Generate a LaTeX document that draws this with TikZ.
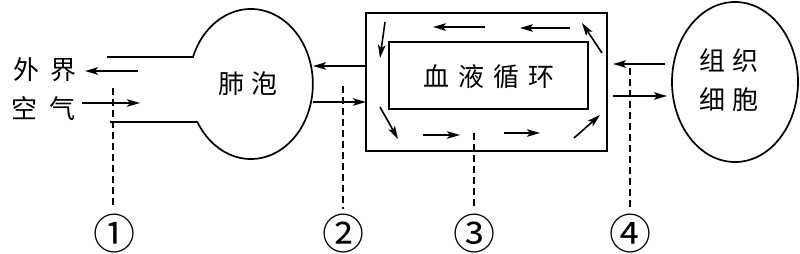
\documentclass[tikz,border=0pt]{standalone}
\usepackage{fontspec}
\newfontfamily\cjk{Noto Sans CJK SC}
\usetikzlibrary{arrows.meta,shapes.geometric}
\begin{document}
\begin{tikzpicture}[x=1pt,y=-1pt,
  line width=1.7pt,
  arr/.style={line width=1.6pt,-{Stealth[length=13pt,width=7.5pt,inset=3pt]}},
  dsh/.style={line width=1.4pt,dash pattern=on 7pt off 4pt},
  lbl/.style={font=\cjk\fontsize{26}{30}\selectfont,inner sep=0pt},
  num/.style={font=\cjk\fontsize{42}{44}\selectfont,inner sep=0pt}]
\useasboundingbox (0,0) rectangle (800,254);
% alveolus
\draw (107,57) -- (193,57) arc[start angle=201.1,end angle=509.5,x radius=62,y radius=75] -- (110,122);
\node[lbl] (alv) at (248,84) {肺\hspace{8pt}泡};
% outside air
\node[lbl] (air1) at (45,70) {外\hspace{12pt}界};
\node[lbl] (air2) at (44,109) {空\hspace{12pt}气};
\coordinate (a1s) at (138,71); \coordinate (a1e) at (85,71);
\coordinate (a2s) at (82,103); \coordinate (a2e) at (140,103);
\draw[arr] (a1s) -- (a1e);
\draw[arr] (a2s) -- (a2e);
% circulation box
\draw (366,13) rectangle (607,151);
\draw (389,42) rectangle (588,109);
\node[lbl] (blood) at (489,77) {血\hspace{9pt}液\hspace{9pt}循\hspace{9pt}环};
% alveolus <-> box
\coordinate (b1s) at (366,66); \coordinate (b1e) at (313,66);
\coordinate (b2s) at (313,102); \coordinate (b2e) at (366,102);
\draw[arr] (b1s) -- (b1e);
\draw[arr] (b2s) -- (b2e);
% inner flow arrows
\draw[arr] (385,22) -- (380,58);
\draw[arr] (485,27) -- (433,27);
\draw[arr] (570,28) -- (520,28);
\draw[arr] (602,53) -- (582,23);
\draw[arr] (380,107) -- (398,139);
\draw[arr] (423,135) -- (460,135);
\draw[arr] (504,133) -- (540,133);
\draw[arr] (574,138) -- (600,115);
% tissue cells
\draw (735,82) ellipse [x radius=63,y radius=80];
\node[lbl] (cell1) at (729,61) {组\hspace{8pt}织};
\node[lbl] (cell2) at (729,100) {细\hspace{8pt}胞};
\coordinate (c1s) at (665,64); \coordinate (c1e) at (613,64);
\coordinate (c2s) at (613,96); \coordinate (c2e) at (667,96);
\draw[arr] (c1s) -- (c1e);
\draw[arr] (c2s) -- (c2e);
% dashed markers
\draw[dsh] (113,88) -- (113,205);
\draw[dsh] (343,86) -- (343,209);
\draw[dsh] (474,133) -- (474,209);
\draw[dsh] (630,68) -- (630,209);
\node[num] (n1) at (114,234) {①};
\node[num] (n2) at (343,234) {②};
\node[num] (n3) at (474,234) {③};
\node[num] (n4) at (630,234) {④};
\end{tikzpicture}
\end{document}
